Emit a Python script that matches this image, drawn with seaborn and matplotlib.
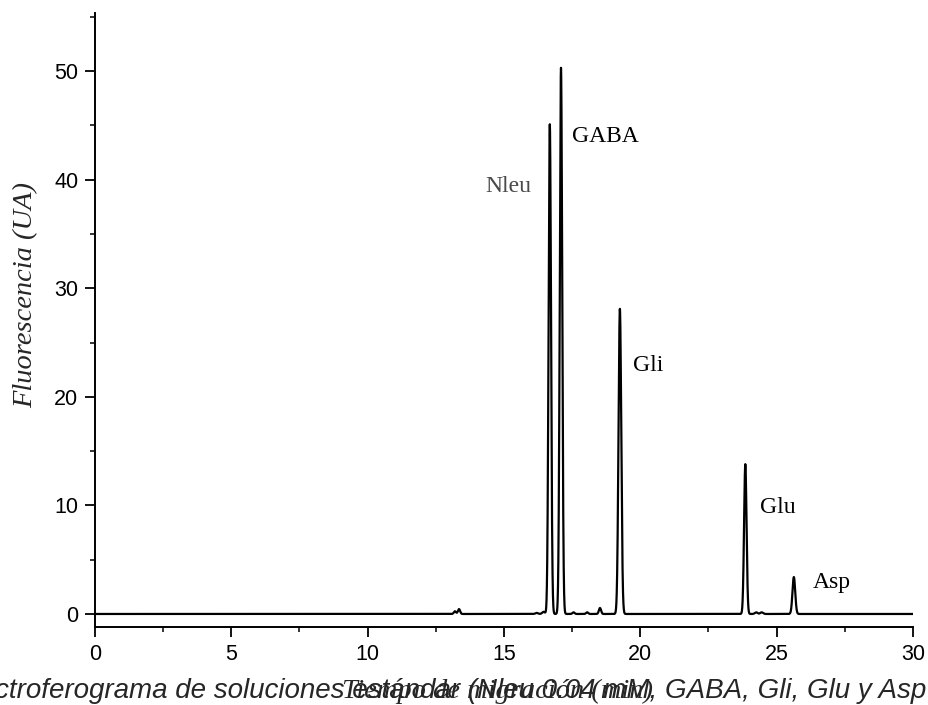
import numpy as np
import pandas as pd
import matplotlib
matplotlib.use("Agg")
import matplotlib.pyplot as plt
import seaborn as sns
from matplotlib.ticker import MultipleLocator

# Peak table of the electropherogram: migration time (min), height (UA), width (sigma, min)
peak_times = [13.20, 13.35, 16.20, 16.45, 16.68, 17.09, 17.55, 18.05, 18.52,
              19.25, 23.85, 24.25, 24.45, 25.63]
peak_heights = [0.25, 0.45, 0.10, 0.20, 45.1, 50.3, 0.15, 0.15, 0.55,
                28.1, 13.8, 0.15, 0.15, 3.4]
peak_widths = [0.04, 0.04, 0.05, 0.05, 0.045, 0.045, 0.04, 0.04, 0.04,
               0.05, 0.045, 0.05, 0.05, 0.05]

# Labelled analytes: name, label anchor (time, UA), colour
label_names = ["Nleu", "GABA", "Gli", "Glu", "Asp"]
label_x = [14.3, 17.48, 19.73, 24.38, 26.33]
label_y = [38.9, 43.5, 22.4, 9.3, 2.4]
label_colors = ["#4a4a4a", "black", "black", "black", "black"]

x_ticks = [0, 5, 10, 15, 20, 25, 30]
y_ticks = [0, 10, 20, 30, 40, 50]

# Detector trace built from the peak table
t = np.linspace(0, 30, 12001)
signal = np.zeros_like(t)
for c, h, w in zip(peak_times, peak_heights, peak_widths):
    signal += h * np.exp(-0.5 * ((t - c) / w) ** 2)
df = pd.DataFrame({"t": t, "signal": signal})

sns.set_style("ticks")
plt.rcParams["font.family"] = ["Liberation Sans", "DejaVu Sans"]

fig = plt.figure(figsize=(9.29, 7.05), dpi=100)
ax = fig.add_axes([95 / 929, 1 - 627 / 705, (913 - 95) / 929, (627 - 13) / 705])

sns.lineplot(data=df, x="t", y="signal", ax=ax, color="black", linewidth=1.6)

ax.set_xlim(0, 30)
ax.set_ylim(-1.2, 55.35)
ax.set_xticks(x_ticks)
ax.set_yticks(y_ticks)
ax.xaxis.set_minor_locator(MultipleLocator(2.5))
ax.yaxis.set_minor_locator(MultipleLocator(5))
ax.tick_params(which="major", length=7, width=1.3, labelsize=15.5, pad=5, colors="black")
ax.tick_params(which="minor", length=3.5, width=1.3)
for side in ("top", "right"):
    ax.spines[side].set_visible(False)
for side in ("left", "bottom"):
    ax.spines[side].set_linewidth(1.4)
    ax.spines[side].set_color("black")

ax.set_xlabel("")
ax.set_ylabel("")
serif = ["Liberation Serif", "DejaVu Serif"]

# Figure caption sits underneath the axis title
fig.text(-45 / 929, 1 - 698 / 705,
         "Electroferograma de soluciones estándar (Nleu 0.04 mM, GABA, Gli, Glu y Asp",
         ha="left", va="baseline", fontsize=20, style="italic")

fig.text(498 / 929, 1 - 698 / 705, "Tiempo de migración (min)", ha="center",
         va="baseline", fontsize=20.5, style="italic", family=serif)
fig.text(26 / 929, 1 - 295 / 705, "Fluorescencia (UA)", ha="center", va="center",
         rotation=90, fontsize=20.5, style="italic", family=serif)

for name, lx, ly, col in zip(label_names, label_x, label_y, label_colors):
    ax.text(lx, ly, name, ha="left", va="baseline", fontsize=17, color=col, family=serif)

fig.savefig("out.png", dpi=100)
